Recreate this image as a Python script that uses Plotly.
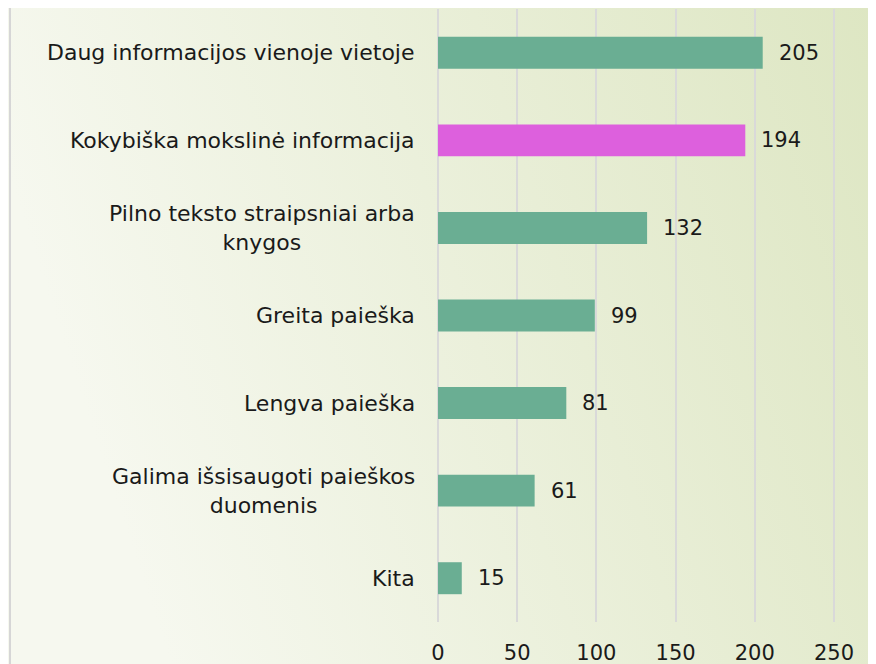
import plotly.graph_objects as go
import urllib.parse

categories = [
    "Daug informacijos vienoje vietoje",
    "Kokybiška mokslinė informacija",
    "Pilno teksto straipsniai arba<br>knygos",
    "Greita paieška",
    "Lengva paieška",
    "Galima išsisaugoti paieškos<br>duomenis",
    "Kita",
]
values = [205, 194, 132, 99, 81, 61, 15]
bar_colors = ["#6aae93", "#dd60dd", "#6aae93", "#6aae93", "#6aae93", "#6aae93", "#6aae93"]
x_ticks = [0, 50, 100, 150, 200, 250]

W, H = 876, 664
OFF = 8  # page body margin offset
L, R, T, B = 436 - OFF, 876 - (836 - OFF), 9 - OFF, 664 - (622 - OFF)
FONT = "DejaVu Sans"
FS = 21
FS_LAB = 22

fig = go.Figure()
fig.add_trace(go.Bar(
    y=categories, x=values, orientation="h",
    marker=dict(color=bar_colors, line=dict(width=0)),
    hoverinfo="skip",
))

annotations = []
for c, v in zip(categories, values):
    annotations.append(dict(x=v, y=c, xref="x", yref="y", text=str(v), showarrow=False,
                            xanchor="left", xshift=14, font=dict(family=FONT, size=FS, color="#1a1a1a")))
    annotations.append(dict(x=0, y=c, xref="x", yref="y", text=c, showarrow=False,
                            xanchor="right", xshift=-21, align="center",
                            font=dict(family=FONT, size=FS_LAB, color="#1a1a1a")))

svg = ('<svg xmlns="http://www.w3.org/2000/svg" width="884" height="672" preserveAspectRatio="none">'
       '<defs><linearGradient id="g" x1="0" y1="0.25" x2="1" y2="0">'
       '<stop offset="0" stop-color="#f6f8ef"/><stop offset="1" stop-color="#dde6c2"/>'
       '</linearGradient></defs><rect width="884" height="672" fill="url(#g)"/></svg>')
src = "data:image/svg+xml;charset=utf-8," + urllib.parse.quote(svg)

pw = W - L - R
ph = H - T - B
fig.update_layout(
    width=W, height=H,
    margin=dict(l=L, r=R, t=T, b=B, pad=0),
    paper_bgcolor="#f6f8ef", plot_bgcolor="rgba(0,0,0,0)",
    bargap=0.635,
    showlegend=False,
    annotations=annotations,
    images=[dict(source=src, xref="paper", yref="paper",
                 x=-L / pw, y=1 + T / ph, sizex=W / pw, sizey=H / ph,
                 xanchor="left", yanchor="top", sizing="stretch", layer="below")],
    shapes=[dict(type="line", xref="paper", yref="paper",
                 x0=(10 - OFF - L) / pw, x1=(10 - OFF - L) / pw, y0=-B / ph, y1=1 + T / ph,
                 line=dict(color="#d6d6d6", width=2))],
    xaxis=dict(range=[-1.27, 251.27], tickvals=x_ticks, ticktext=[str(t) for t in x_ticks],
               showgrid=True, gridcolor="#d9d9d9", gridwidth=1.5, zeroline=False,
               ticks="outside", ticklen=12, tickcolor="rgba(0,0,0,0)",
               tickfont=dict(family=FONT, size=FS, color="#1a1a1a"), fixedrange=True),
    yaxis=dict(autorange="reversed", showticklabels=False, showgrid=False, zeroline=False,
               fixedrange=True),
)
fig.write_html("out.html")
